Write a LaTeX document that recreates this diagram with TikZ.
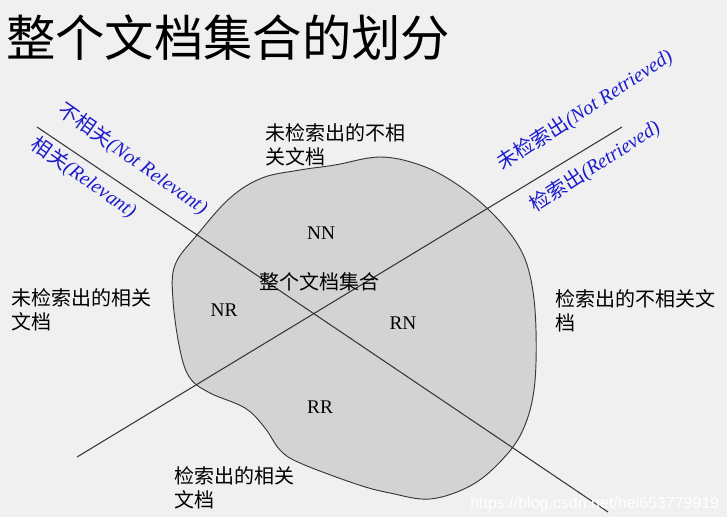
\documentclass[tikz,border=0pt]{standalone}
\usepackage{fontspec}
\setmainfont{Liberation Serif}
\newfontfamily\cjk{Noto Sans CJK SC}
\newfontfamily\wmfont{Liberation Sans}
\usetikzlibrary{calc}
\definecolor{bgcol}{RGB}{240,240,240}
\definecolor{setcol}{RGB}{211,211,211}
\definecolor{labblue}{RGB}{28,28,205}
\definecolor{linecol}{RGB}{55,55,55}
\tikzset{%
  cut/.style={draw=linecol, line width=0.8pt},
  zh/.style={font=\cjk\fontsize{15}{18}\selectfont, align=left, inner sep=0pt},
  part/.style={font=\fontsize{14.5}{16}\selectfont, inner sep=0pt},
  side/.style={text=labblue, font=\fontsize{15}{18}\selectfont, inner sep=0pt},
}

\begin{document}
\begin{tikzpicture}[x=0.75pt, y=-0.75pt]

    % page, one unit = one pixel
    \fill[bgcol] (0,0) rectangle (727,517);
    \useasboundingbox (0,0) rectangle (727,517);

    % title
    \node[anchor=west, inner sep=0pt, font=\cjk\fontsize{37}{40}\selectfont] (title) at (6,38) {整个文档集合的划分};

    % the whole document set
    \draw[draw=linecol, fill=setcol, line width=0.7pt] plot[smooth cycle, tension=0.6] coordinates {
      (380,157) (420,165) (455,183) (490,211) (518,245) (531,280) (536,330)
      (534,390) (522,432) (500,462) (470,486) (430,499) (390,493) (356,484)
      (300,463) (280,450) (265,428) (245,408) (210,393) (190,378) (180,350)
      (173,300) (175,265) (197,235) (230,198) (262,178) (300,170) (335,165)};

    % end points of the two cuts
    \coordinate (relA) at (37,127);
    \coordinate (relB) at (608,512);
    \coordinate (retA) at (77,457);
    \coordinate (retB) at (622,127);

    %relevance and retrieval lines
    \draw[cut] (relA) -- (relB);
    \draw[cut] (retA) -- (retB);

    % labels along the cuts
    \node[side, rotate=-35] (notrel) at (133,159) {{\cjk 不相关}\textit{(Not Relevant)}};
    \node[side, rotate=-35] (rel) at (84,178) {{\cjk 相关}\textit{(Relevant)}};
    \node[side, rotate=33] (notret) at (585,110) {{\cjk 未检索出}\textit{(Not Retrieved)}};
    \node[side, rotate=33] (ret) at (595,166) {{\cjk 检索出}\textit{(Retrieved)}};

    % the four parts
    \node[part] (NN) at (321,233) {NN};
    \node[part] (NR) at (224,310) {NR};
    \node[part] (RN) at (403,323) {RN};
    \node[part] (RR) at (320,407) {RR};
    \node[zh] (whole) at (319,282) {整个文档集合};

    % names of the parts
    \node[zh, anchor=west] (topname) at (265,145) {未检索出的不相\\关文档};
    \node[zh, anchor=west] (leftname) at (11,310) {未检索出的相关\\文档};
    \node[zh, anchor=west] (rightname) at (555,311) {检索出的不相关文\\档};
    \node[zh, anchor=west] (bottomname) at (174,488) {检索出的相关\\文档};

    % watermark
    \node[anchor=west, inner sep=0pt, text=white, font=\wmfont\fontsize{12}{14}\selectfont] (wm) at (470,504) {https://blog.csdn.net/hei653779919};

\end{tikzpicture}
\end{document}
